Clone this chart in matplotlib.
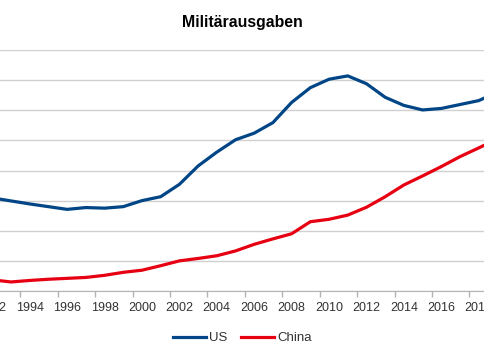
import numpy as np
import matplotlib
matplotlib.use("Agg")
import matplotlib.pyplot as plt

plt.rcParams["font.family"] = ["Liberation Sans", "DejaVu Sans"]

# Militaerausgaben in Mrd. USD
years = list(range(1992, 2020))
us = [309, 299, 289, 280, 271, 277, 275, 280, 300, 313,
      354, 415, 461, 502, 524, 559, 626, 675, 703, 714,
      688, 643, 616, 601, 606, 619, 632, 660]
china = [37, 30, 35, 39, 42, 45, 52, 62, 69, 84,
         100, 108, 117, 133, 155, 173, 190, 230, 238, 252,
         278, 313, 352, 382, 413, 446, 475, 505]
label_years = list(range(1992, 2020, 2))

US_COLOR = "#004586"
CHINA_COLOR = "#e60012"

W, H = 485, 360
fig = plt.figure(figsize=(W / 100, H / 100), dpi=100)

# Achse laeuft links und rechts ueber den Bildrand hinaus (wie im Original)
x_lo, x_hi = 1991.5, 2019.5
px_per_year = 18.71
x0 = 29.7 - (1994 - x_lo) * px_per_year
x1 = 29.7 + (x_hi - 1994) * px_per_year
y_top, y_bot = 50, 291
ax = fig.add_axes([x0 / W, (H - y_bot) / H, (x1 - x0) / W, (y_bot - y_top) / H])

ax.plot(years, us, color=US_COLOR, lw=2.3, label="US", solid_joinstyle="round")
ax.plot(years, china, color=CHINA_COLOR, lw=2.3, label="China", solid_joinstyle="round")

ax.set_xlim(x_lo, x_hi)
ax.set_ylim(0, 800)
ax.set_yticks(range(0, 801, 100))
ax.grid(axis="y", color="#d0d0d0", lw=1)
ax.set_axisbelow(True)
ax.tick_params(axis="y", left=False, labelleft=False)

ax.set_xticks(np.arange(1993.5, 2019, 2))
ax.set_xticklabels([])
ax.set_xticks(label_years, minor=True)
ax.set_xticklabels([str(y) for y in label_years], minor=True)
ax.tick_params(axis="x", which="major", length=4, width=1, color="#b3b3b3", direction="out")
ax.tick_params(axis="x", which="minor", length=0, pad=8, labelsize=9, labelcolor="#333333")

for s in ["top", "right", "left"]:
    ax.spines[s].set_visible(False)
ax.spines["bottom"].set_color("#b3b3b3")

fig.text(0.5, (H - 23) / H, "Militärausgaben", ha="center", va="center",
         fontsize=11.4, fontweight="bold")

fig.legend(loc="center", bbox_to_anchor=(0.5, (H - 338) / H), ncol=2, frameon=False,
           fontsize=9.5, handlelength=2.5, handletextpad=0.25, columnspacing=1.05,
           labelcolor="#333333")

fig.savefig("out.png", dpi=100)
